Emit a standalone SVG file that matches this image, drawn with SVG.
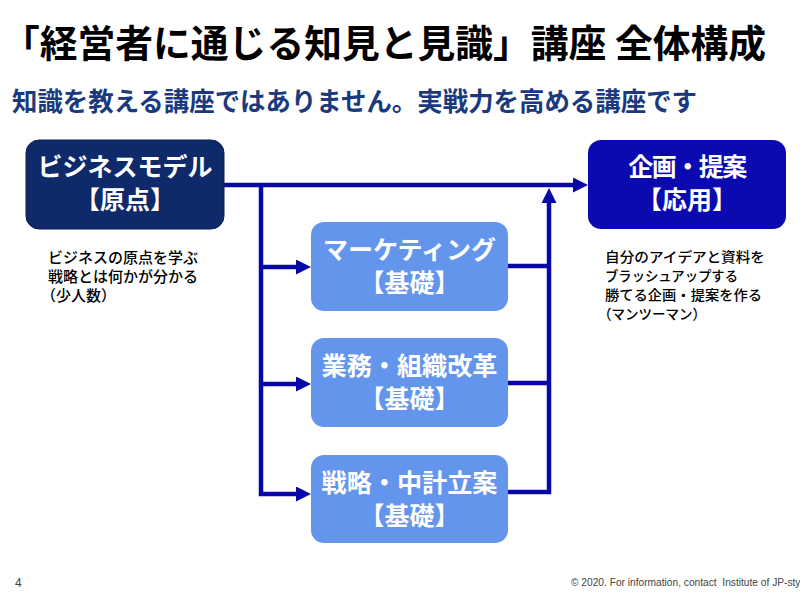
<svg xmlns="http://www.w3.org/2000/svg" width="800" height="600" viewBox="0 0 800 600">
<style>
.jp{font-family:"Noto Sans CJK JP","Noto Sans CJK SC",sans-serif}
.title{font-size:38px;font-weight:700;fill:#000}
.sub{font-size:26px;font-weight:700;fill:#1b3a7d}
.bt{font-size:25px;font-weight:700;fill:#fff;text-anchor:middle}
.desc{font-size:15px;font-weight:500;fill:#000}
.descr{font-size:14px;font-weight:500;fill:#000}
.foot{font-family:"Liberation Sans",Arial,sans-serif;font-size:10.2px;fill:#444;white-space:pre}
.conn{fill:none;stroke:#0808a8;stroke-width:4.5;stroke-linejoin:miter}
.mid{fill:#6495ed}
</style>
<defs>
<marker id="ah" markerUnits="userSpaceOnUse" markerWidth="16" markerHeight="16" refX="2" refY="7.5" orient="auto">
<path d="M0,0 L15,7.5 L0,15 z" fill="#0808a8"/>
</marker>
</defs>
<rect width="800" height="600" fill="#fff"/>
<text class="jp title" x="2" y="57" textLength="764" lengthAdjust="spacingAndGlyphs">「経営者に通じる知見と見識」講座 全体構成</text>
<text class="jp sub" x="12" y="111" textLength="685" lengthAdjust="spacingAndGlyphs">知識を教える講座ではありません。実戦力を高める講座です</text>

<g id="connectors">
<path class="conn" d="M224,185 H575" marker-end="url(#ah)"/>
<path class="conn" d="M261,185 V494 H298" marker-end="url(#ah)"/>
<path class="conn" d="M261,267 H298" marker-end="url(#ah)"/>
<path class="conn" d="M261,384 H298" marker-end="url(#ah)"/>
<path class="conn" d="M508,492 H549 V201" marker-end="url(#ah)"/>
<path class="conn" d="M508,266 H549"/>
<path class="conn" d="M508,383 H549"/>
</g>

<g id="node-business-model">
<rect x="26" y="140" width="198" height="89" rx="13" fill="#0e2a6b" stroke="#0a1f52" stroke-width="1"/>
<text class="jp bt" x="125" y="176">ビジネスモデル</text>
<text class="jp bt" x="125" y="209">【原点】</text>
</g>
<g id="node-business-desc">
<text class="jp desc" x="48" y="263">ビジネスの原点を学ぶ</text>
<text class="jp desc" x="48" y="282">戦略とは何かが分かる</text>
<text class="jp desc" x="41" y="301">（少人数）</text>
</g>

<g id="node-planning">
<rect x="588" y="140" width="198" height="89" rx="13" fill="#0a0ab0"/>
<text class="jp bt" x="687" y="176" style="letter-spacing:-1.5px">企画・提案</text>
<text class="jp bt" x="687" y="209">【応用】</text>
</g>
<g id="node-planning-desc">
<text class="jp descr" x="605" y="262" textLength="160" lengthAdjust="spacingAndGlyphs">自分のアイデアと資料を</text>
<text class="jp descr" x="605" y="281" textLength="133" lengthAdjust="spacingAndGlyphs">ブラッシュアップする</text>
<text class="jp descr" x="605" y="300" textLength="157" lengthAdjust="spacingAndGlyphs">勝てる企画・提案を作る</text>
<text class="jp descr" x="598" y="319" textLength="108" lengthAdjust="spacingAndGlyphs">（マンツーマン）</text>
</g>

<g id="node-marketing">
<rect class="mid" x="311" y="222" width="197" height="89" rx="13"/>
<text class="jp bt" x="409.5" y="259">マーケティング</text>
<text class="jp bt" x="409.5" y="292">【基礎】</text>
</g>
<g id="node-operations">
<rect class="mid" x="311" y="338" width="197" height="89" rx="13"/>
<text class="jp bt" x="409.5" y="375" textLength="176" lengthAdjust="spacingAndGlyphs">業務・組織改革</text>
<text class="jp bt" x="409.5" y="408">【基礎】</text>
</g>
<g id="node-strategy">
<rect class="mid" x="311" y="455" width="197" height="88" rx="13"/>
<text class="jp bt" x="409.5" y="492" textLength="176" lengthAdjust="spacingAndGlyphs">戦略・中計立案</text>
<text class="jp bt" x="409.5" y="525">【基礎】</text>
</g>

<text class="foot" x="15" y="587" style="font-size:12px">4</text>
<text class="foot" x="571" y="586">© 2020. For information, contact  Institute of JP-sty</text>
</svg>
